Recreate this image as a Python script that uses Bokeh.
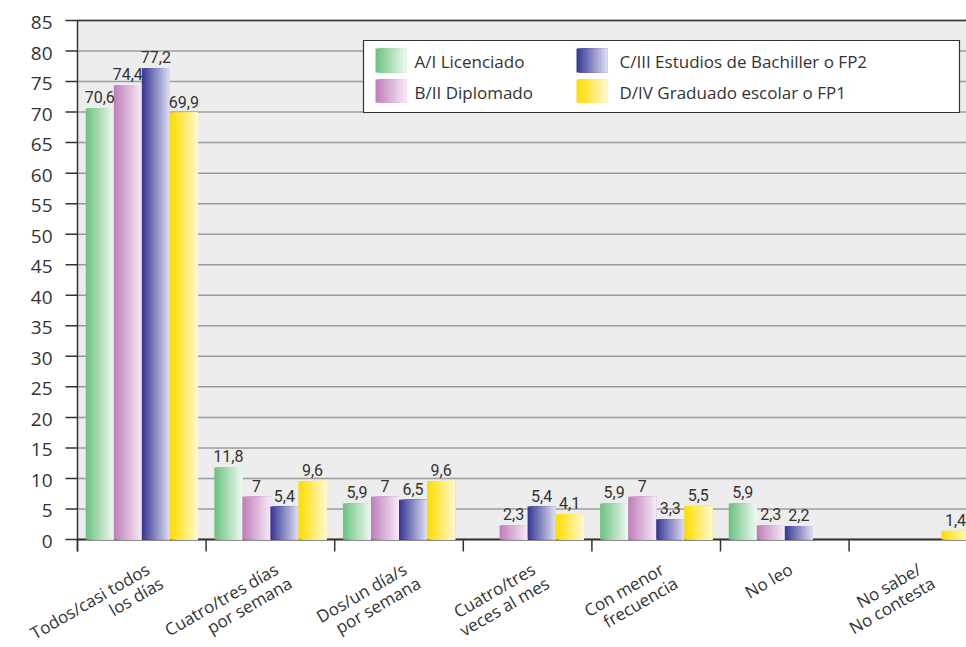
import math
from bokeh.plotting import figure
from bokeh.models import ColumnDataSource, Range1d
from bokeh.embed import file_html
from bokeh.resources import INLINE
from bokeh.core.properties import value

# ---------------- data ----------------
categories = ["Todos/casi todos\nlos días", "Cuatro/tres días\npor semana",
              "Dos/un día/s\npor semana", "Cuatro/tres\nveces al mes",
              "Con menor\nfrecuencia", "No leo", "No sabe/\nNo contesta"]
series_names = ["A/I Licenciado", "B/II Diplomado",
                "C/III Estudios de Bachiller o FP2", "D/IV Graduado escolar o FP1"]
licenciado = [70.6, 11.8, 5.9, None, 5.9, 5.9, None]
diplomado = [74.4, 7, 7, 2.3, 7, 2.3, None]
bachiller = [77.2, 5.4, 6.5, 5.4, 3.3, 2.2, None]
graduado = [69.9, 9.6, 9.6, 4.1, 5.5, None, 1.4]
y_ticks = list(range(0, 90, 5))
y_max = 85

series_values = [licenciado, diplomado, bachiller, graduado]
grad_start = [(110, 195, 130), (192, 128, 188), (58, 58, 150), (255, 221, 0)]
grad_end = [(236, 247, 238), (245, 232, 244), (218, 218, 240), (255, 248, 205)]

TXT = "#333333"
N_STRIPS = 18
BAR_W = 0.218

# layout constants (pixels)
W, H = 966, 647
LEFT, TOP = 77, 20          # pixel position of x=0 / y=y_max
AXIS_Y = 539                # pixel row of value 0
TICK = 12
PYU = (AXIS_Y - TOP) / float(y_max)   # pixels per unit
PXW = 128.6                           # pixels per category


def dx(px):
    return (px - LEFT) / PXW


def dy(py):
    return (AXIS_Y - py) / PYU


def mix(c0, c1, t):
    return "#%02x%02x%02x" % tuple(int(round(a + (b - a) * t)) for a, b in zip(c0, c1))


p = figure(width=W, height=H, output_backend="svg", toolbar_location=None,
           x_range=Range1d(dx(0), dx(W)), y_range=Range1d(dy(H), dy(0)),
           x_axis_type=None, y_axis_type=None,
           min_border_left=0, min_border_top=0, min_border_bottom=0, min_border_right=0)
p.background_fill_color = "white"
p.border_fill_color = "white"
p.outline_line_color = None
p.xgrid.visible = False
p.ygrid.visible = False

n = len(categories)
x_end = dx(W + 20)
bounds = list(range(n + 1))

# plot area, grid lines
p.quad(left=[0], right=[x_end], bottom=[0], top=[y_max], fill_color="#EDEDED", line_color=None)
p.segment(x0=[0] * len(y_ticks), y0=y_ticks, x1=[x_end] * len(y_ticks), y1=y_ticks,
          line_color="#9C9C9C", line_width=1.5)
p.segment(x0=[0], y0=[y_max], x1=[x_end], y1=[y_max], line_color=TXT, line_width=1.5)

# y axis: line, ticks, labels
p.segment(x0=[0], y0=[-TICK / PYU], x1=[0], y1=[y_max], line_color=TXT, line_width=1.5)
p.segment(x0=[-TICK / PXW] * len(y_ticks), y0=y_ticks, x1=[0] * len(y_ticks), y1=y_ticks,
          line_color=TXT, line_width=1.5)
p.text(x=[-(TICK + 13) / PXW] * len(y_ticks), y=y_ticks, text=[str(t) for t in y_ticks],
       text_font=value("Open Sans"), text_font_size="19px", text_color=TXT,
       text_align="right", text_baseline="middle", y_offset=2)

# x axis: line and boundary ticks
p.segment(x0=[0], y0=[0], x1=[x_end], y1=[0], line_color=TXT, line_width=2)
p.segment(x0=bounds, y0=[0] * len(bounds), x1=bounds, y1=[-TICK / PYU] * len(bounds),
          line_color=TXT, line_width=1.5)

# bars with gradient strips
L, R, T, B, C = [], [], [], [], []
lx, ly, lt = [], [], []
for s, vals in enumerate(series_values):
    off = (s - 1.5) * BAR_W
    for i, v in enumerate(vals):
        if v is None:
            continue
        left = i + 0.5 + off - BAR_W / 2
        right = left + BAR_W
        for k in range(N_STRIPS):
            L.append(left + BAR_W * k / N_STRIPS)
            R.append(right)
            T.append(v)
            B.append(0)
            C.append(mix(grad_start[s], grad_end[s], k / (N_STRIPS - 1)))
        lx.append(i + 0.5 + off)
        ly.append(v)
        lt.append(("%g" % v).replace(".", ","))

p.quad(left="l", right="r", top="t", bottom="b", fill_color="c", line_color=None,
       source=ColumnDataSource(dict(l=L, r=R, t=T, b=B, c=C)))
p.text(x="x", y="y", text="t", source=ColumnDataSource(dict(x=lx, y=ly, t=lt)),
       text_font=value("Roboto"), text_font_size="16px", text_color=TXT,
       text_align="center", text_baseline="alphabetic", y_offset=-11)

# legend box
p.quad(left=[dx(363)], right=[dx(959)], top=[dy(40)], bottom=[dy(112)],
       fill_color="white", line_color=TXT, line_width=1.2)
sw_x = [375, 375, 576, 576]
sw_y = [(48, 72), (79, 102), (48, 72), (79, 102)]
tx_x = [414, 414, 619, 619]
GL, GR, GT, GB, GC = [], [], [], [], []
for s in range(4):
    x0, x1 = sw_x[s], sw_x[s] + 31
    for k in range(N_STRIPS):
        GL.append(dx(x0 + (x1 - x0) * k / N_STRIPS))
        GR.append(dx(x1))
        GT.append(dy(sw_y[s][0]))
        GB.append(dy(sw_y[s][1]))
        GC.append(mix(grad_start[s], grad_end[s], k / (N_STRIPS - 1)))
p.quad(left="l", right="r", top="t", bottom="b", fill_color="c", line_color=None,
       source=ColumnDataSource(dict(l=GL, r=GR, t=GT, b=GB, c=GC)))
p.text(x=[dx(v) for v in tx_x], y=[dy((a + b) / 2 + 1) for a, b in sw_y], text=series_names,
       text_font=value("Open Sans"), text_font_size="17px", text_color=TXT,
       text_align="left", text_baseline="middle")

# rotated category labels (right-aligned lines, stacked perpendicular to the text)
ANG = math.radians(30)
LINE_GAP = 19
ALONG = 5
cx, ct, cxo, cyo = [], [], [], []
for i, cat in enumerate(categories):
    for j, line in enumerate(cat.split("\n")):
        cx.append(i + 0.5)
        ct.append(line)
        cxo.append(6 + j * (ALONG * math.cos(ANG) + LINE_GAP * math.sin(ANG)))
        cyo.append(j * (-ALONG * math.sin(ANG) + LINE_GAP * math.cos(ANG)))
p.text(x="x", y="y", text="t", x_offset="xo", y_offset="yo",
       source=ColumnDataSource(dict(x=cx, y=[dy(567)] * len(cx), t=ct, xo=cxo, yo=cyo)),
       angle=ANG, text_font=value("Open Sans"), text_font_size="17px", text_color=TXT,
       text_align="right", text_baseline="alphabetic")

open("out.html", "w").write(file_html(p, INLINE))
